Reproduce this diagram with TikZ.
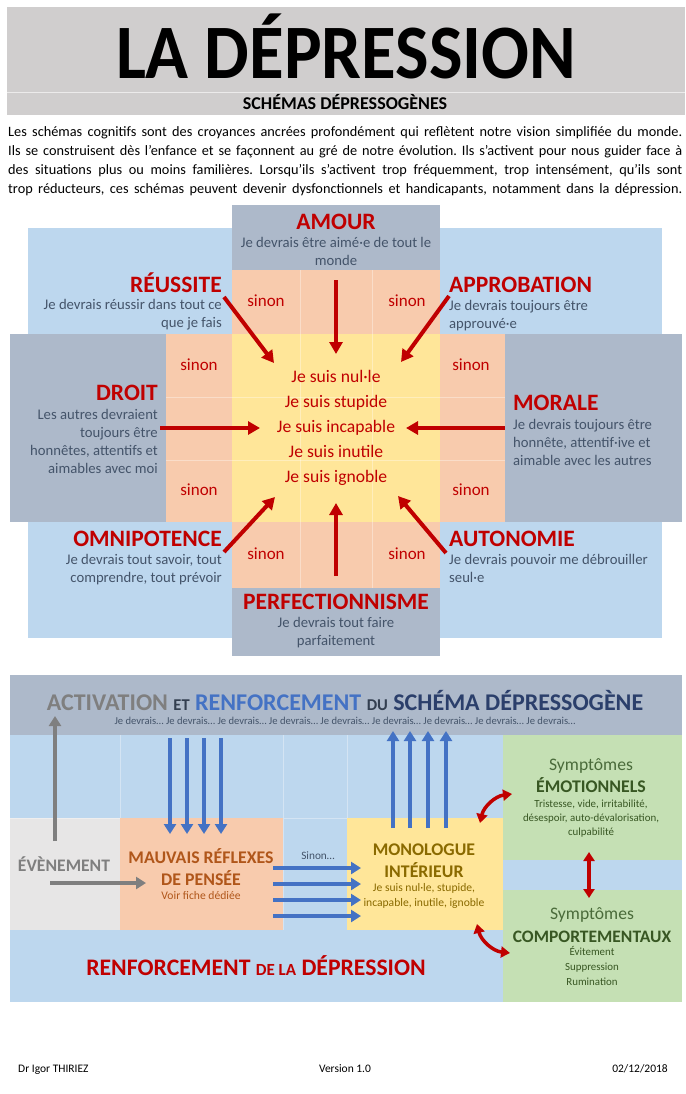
\documentclass[tikz,border=0pt]{standalone}
\usepackage{fontspec}
\setmainfont{Carlito}
\usetikzlibrary{arrows.meta}
\definecolor{hdrgrey}{HTML}{D0CECE}
\definecolor{slate}{HTML}{ADB9CA}
\definecolor{lblue}{HTML}{BDD7EE}
\definecolor{salmon}{HTML}{F8CBAD}
\definecolor{lyellow}{HTML}{FFE699}
\definecolor{dred}{HTML}{C00000}
\definecolor{txtblue}{HTML}{44546A}
\definecolor{lgreen}{HTML}{C5E0B4}
\definecolor{dgreen}{HTML}{385723}
\definecolor{sgreen}{HTML}{4A6B3A}
\definecolor{lgrey}{HTML}{E7E6E6}
\definecolor{midgrey}{HTML}{7F7F7F}
\definecolor{mblue}{HTML}{4472C4}
\definecolor{navy}{HTML}{2B3F6B}
\definecolor{darkslate}{HTML}{333F50}
\definecolor{brownor}{HTML}{B0561A}
\definecolor{olive}{HTML}{8A6A00}
\newcommand\myfs[1]{\fontsize{#1}{#1}\selectfont}
\frenchspacing
\begin{document}
\frenchspacing
\begin{tikzpicture}[x=1pt,y=-1pt,
  every node/.style={inner sep=0pt},
  ttl/.style={text=dred,font=\bfseries\myfs{23.5},text height=15pt,text depth=0pt},
  sub/.style={text=txtblue,font=\myfs{14.7},text height=10pt,text depth=3.5pt},
  sinon/.style={text=dred,font=\myfs{17},text height=11pt,text depth=3.5pt},
  moi/.style={text=dred,font=\myfs{17.6},text height=12pt,text depth=4pt},
  para/.style={font=\myfs{14.3},text height=10pt,text depth=3.2pt,anchor=west},
  redarr/.style={draw=dred,line width=4pt,-{Triangle[length=12pt,width=13pt]}},
  bluearr/.style={draw=mblue,line width=4pt,-{Triangle[length=10pt,width=12pt]}},
  greyarr/.style={draw=midgrey,line width=4pt,-{Triangle[length=10pt,width=12pt]}},
  dblarr/.style={draw=dred,line width=3.5pt,{Triangle[length=9pt,width=11pt]}-{Triangle[length=9pt,width=11pt]}},
  faint/.style={draw=white,opacity=0.35,line width=0.8pt},
  btitle/.style={font=\bfseries\myfs{17.8},text height=11.5pt,text depth=0pt},
  bsub/.style={font=\myfs{11.6},text height=8pt,text depth=2.7pt},
  gsub/.style={font=\myfs{10.9},text height=7.5pt,text depth=2.5pt},
  foot/.style={font=\myfs{11.5},text height=8pt,text depth=2.5pt},
]
\useasboundingbox (0,0) rectangle (685,1094);
\fill[white] (0,0) rectangle (685,1094);

% ---------- header ----------
\fill[hdrgrey] (7,7) rectangle (685,115);
\draw[white!60!hdrgrey,line width=0.8pt] (7,92) -- (685,92);
\node[font=\bfseries\myfs{77},text height=50pt,text depth=0pt] (title) at (346,54) {\scalebox{0.92}[1]{LA DÉPRESSION}};
\node[font=\bfseries\myfs{18},text height=11.5pt,text depth=0pt] (subtitle) at (345,104) {SCHÉMAS DÉPRESSOGÈNES};

\node[para] (p1) at (8,133) {\hbox to 674pt{Les schémas cognitifs sont des croyances ancrées profondément qui reflètent notre vision simplifiée du monde.}};
\node[para] (p2) at (8,152) {\hbox to 674pt{Ils se construisent dès l’enfance et se façonnent au gré de notre évolution. Ils s’activent pour nous guider face à}};
\node[para] (p3) at (8,171) {\hbox to 674pt{des situations plus ou moins familières. Lorsqu’ils s’activent trop fréquemment, trop intensément, qu’ils sont}};
\node[para] (p4) at (8,190) {\hbox to 674pt{trop réducteurs, ces schémas peuvent devenir dysfonctionnels et handicapants, notamment dans la dépression.}};

% ---------- top diagram ----------
\fill[lblue] (28,228) rectangle (662,638);
\fill[slate] (232,205) rectangle (440,270);
\fill[slate] (232,588) rectangle (440,656);
\fill[slate] (10,334) rectangle (166,522);
\fill[slate] (505,334) rectangle (682,522);
\fill[salmon] (232,270) rectangle (440,334);
\fill[salmon] (232,522) rectangle (440,588);
\fill[salmon] (166,334) rectangle (232,522);
\fill[salmon] (440,334) rectangle (505,522);
\fill[lyellow] (232,334) rectangle (440,522);
\draw[faint] (300,270) -- (300,588) (372,270) -- (372,588);
\draw[faint] (166,397) -- (505,397) (166,460) -- (505,460);

% AMOUR
\node[ttl] (amour) at (336,222) {AMOUR};
\node[sub] (amour1) at (336,244) {Je devrais être aimé·e de tout le};
\node[sub] (amour2) at (336,262) {monde};
% REUSSITE
\node[ttl,anchor=east] (reussite) at (222,285) {RÉUSSITE};
\node[sub,anchor=east] (reussite1) at (222,306) {Je devrais réussir dans tout ce};
\node[sub,anchor=east] (reussite2) at (222,324) {que je fais};
% APPROBATION
\node[ttl,anchor=west] (approb) at (449,285) {APPROBATION};
\node[sub,anchor=west] (approb1) at (449,307) {Je devrais toujours être};
\node[sub,anchor=west] (approb2) at (449,325) {approuvé·e};
% DROIT
\node[ttl,anchor=east] (droit) at (158,393) {DROIT};
\node[sub,anchor=east] (droit1) at (158,416) {Les autres devraient};
\node[sub,anchor=east] (droit2) at (158,434) {toujours être};
\node[sub,anchor=east] (droit3) at (158,452) {honnêtes, attentifs et};
\node[sub,anchor=east] (droit4) at (158,470) {aimables avec moi};
% MORALE
\node[ttl,anchor=west] (morale) at (513,403) {MORALE};
\node[sub,anchor=west] (morale1) at (513,426) {Je devrais toujours être};
\node[sub,anchor=west] (morale2) at (513,444) {honnête, attentif·ive et};
\node[sub,anchor=west] (morale3) at (513,462) {aimable avec les autres};
% OMNIPOTENCE
\node[ttl,anchor=east] (omni) at (222,539) {OMNIPOTENCE};
\node[sub,anchor=east] (omni1) at (222,561) {Je devrais tout savoir, tout};
\node[sub,anchor=east] (omni2) at (222,579) {comprendre, tout prévoir};
% AUTONOMIE
\node[ttl,anchor=west] (auto) at (449,539) {AUTONOMIE};
\node[sub,anchor=west] (auto1) at (449,561) {Je devrais pouvoir me débrouiller};
\node[sub,anchor=west] (auto2) at (449,579) {seul·e};
% PERFECTIONNISME
\node[ttl] (perf) at (336,602) {PERFECTIONNISME};
\node[sub] (perf1) at (336,624) {Je devrais tout faire};
\node[sub] (perf2) at (336,642) {parfaitement};

% sinon
\node[sinon] (s1) at (266,303) {sinon};
\node[sinon] (s2) at (407,303) {sinon};
\node[sinon] (s3) at (199,367) {sinon};
\node[sinon] (s4) at (471,367) {sinon};
\node[sinon] (s5) at (199,492) {sinon};
\node[sinon] (s6) at (471,492) {sinon};
\node[sinon] (s7) at (266,556) {sinon};
\node[sinon] (s8) at (407,556) {sinon};

% centre
\node[moi] (m1) at (336,378) {Je suis nul·le};
\node[moi] (m2) at (336,403) {Je suis stupide};
\node[moi] (m3) at (336,428) {Je suis incapable};
\node[moi] (m4) at (336,453) {Je suis inutile};
\node[moi] (m5) at (336,478) {Je suis ignoble};

% arrows top
\coordinate (aA) at (336,280); \coordinate (aAt) at (336,354);
\coordinate (aR) at (224,297); \coordinate (aRt) at (274,363);
\coordinate (aP) at (449,296); \coordinate (aPt) at (401,362);
\coordinate (aD) at (160,428); \coordinate (aDt) at (260,428);
\coordinate (aM) at (505,428); \coordinate (aMt) at (406,428);
\coordinate (aO) at (224,552); \coordinate (aOt) at (275,497);
\coordinate (aU) at (446,553); \coordinate (aUt) at (398,496);
\coordinate (aF) at (336,576); \coordinate (aFt) at (336,503);
\draw[redarr] (aA) -- (aAt);
\draw[redarr] (aR) -- (aRt);
\draw[redarr] (aP) -- (aPt);
\draw[redarr] (aD) -- (aDt);
\draw[redarr] (aM) -- (aMt);
\draw[redarr] (aO) -- (aOt);
\draw[redarr] (aU) -- (aUt);
\draw[redarr] (aF) -- (aFt);

% ---------- bottom diagram ----------
\fill[slate] (10,675) rectangle (682,735);
\fill[lblue] (10,735) rectangle (503,1002);
\fill[lgreen] (503,735) rectangle (682,860);
\fill[lblue] (503,860) rectangle (682,890);
\fill[lgreen] (503,890) rectangle (682,1002);
\fill[lgrey] (10,818) rectangle (120,930);
\fill[salmon] (120,818) rectangle (283,930);
\fill[lyellow] (347,818) rectangle (503,930);
\draw[faint] (120,735) -- (120,818) (283,735) -- (283,930) (347,735) -- (347,818) (10,818) -- (120,818) (283,818) -- (347,818);

\node[font=\bfseries\myfs{24},text height=16.5pt,text depth=0pt] (acth) at (345,702)
  {\textcolor{midgrey}{ACTIVATION} \textcolor{darkslate}{\myfs{16.5}ET} \textcolor{mblue}{RENFORCEMENT} \textcolor{darkslate}{\myfs{16.5}DU} \textcolor{navy}{SCHÉMA DÉPRESSOGÈNE}};
\node[font=\myfs{10.6},text=txtblue,text height=7.5pt,text depth=2pt] (jed) at (345,722)
  {Je devrais… Je devrais… Je devrais… Je devrais… Je devrais… Je devrais… Je devrais… Je devrais… Je devrais…};

\node[btitle,text=midgrey,font=\bfseries\myfs{17.6}] (evt) at (64,866) {ÉVÈNEMENT};
\node[btitle,text=brownor] (mr1) at (201,858) {MAUVAIS RÉFLEXES};
\node[btitle,text=brownor] (mr2) at (201,880) {DE PENSÉE};
\node[bsub,text=brownor] (mr3) at (201,897) {Voir fiche dédiée};
\node[font=\myfs{11.3},text=txtblue,text height=7.5pt,text depth=2pt] (sinonb) at (318,857) {Sinon…};
\node[btitle,text=olive] (mo1) at (424,850) {MONOLOGUE};
\node[btitle,text=olive] (mo2) at (424,872) {INTÉRIEUR};
\node[bsub,text=olive] (mo3) at (424,889) {Je suis nul·le, stupide,};
\node[bsub,text=olive] (mo4) at (424,904) {incapable, inutile, ignoble};

\node[font=\myfs{17.6},text=sgreen,text height=12pt,text depth=3.5pt] (se0) at (591,766) {Symptômes};
\node[btitle,text=dgreen] (se1) at (591,787) {ÉMOTIONNELS};
\node[gsub,text=dgreen] (se2) at (591,805) {Tristesse, vide, irritabilité,};
\node[gsub,text=dgreen] (se3) at (591,819) {désespoir, auto-dévalorisation,};
\node[gsub,text=dgreen] (se4) at (591,833) {culpabilité};
\node[font=\myfs{17.6},text=sgreen,text height=12pt,text depth=3.5pt] (sc0) at (592,915) {Symptômes};
\node[btitle,text=dgreen,font=\bfseries\myfs{17.5}] (sc1) at (592,937) {COMPORTEMENTAUX};
\node[gsub,text=dgreen] (sc2) at (592,953) {Évitement};
\node[gsub,text=dgreen] (sc3) at (592,968) {Suppression};
\node[gsub,text=dgreen] (sc4) at (592,983) {Rumination};

\node[font=\bfseries\myfs{23.7},text=dred,text height=15pt,text depth=0pt] (renf) at (256,968)
  {RENFORCEMENT {\myfs{17}DE LA} DÉPRESSION};

% bottom arrows
\coordinate (gu0) at (55,841); \coordinate (gu1) at (55,716);
\draw[greyarr] (gu0) -- (gu1);
\coordinate (gr0) at (50,883); \coordinate (gr1) at (146,883);
\draw[greyarr] (gr0) -- (gr1);
\foreach \x/\n in {170/1,187/2,204/3,221/4}{
  \coordinate (bd\n) at (\x,738); \coordinate (bdt\n) at (\x,834);
  \draw[bluearr] (bd\n) -- (bdt\n);}
\foreach \y/\n in {868/1,884/2,900/3,916/4}{
  \coordinate (bh\n) at (273,\y); \coordinate (bht\n) at (361,\y);
  \draw[bluearr] (bh\n) -- (bht\n);}
\foreach \x/\n in {393/1,410/2,428/3,446/4}{
  \coordinate (bu\n) at (\x,828); \coordinate (but\n) at (\x,731);
  \draw[bluearr] (bu\n) -- (but\n);}
\coordinate (c1a) at (480,823); \coordinate (c1b) at (512,794);
\draw[dblarr] (c1a) to[bend left=35] (c1b);
\coordinate (c2a) at (477,924); \coordinate (c2b) at (510,953);
\draw[dblarr] (c2a) to[bend right=35] (c2b);
\coordinate (v1) at (589,852); \coordinate (v2) at (589,898);
\draw[dblarr] (v1) -- (v2);

% footer
\node[foot,anchor=west] (f1) at (18,1070) {Dr Igor THIRIEZ};
\node[foot] (f2) at (345,1070) {Version 1.0};
\node[foot,anchor=east] (f3) at (668,1070) {02/12/2018};
\end{tikzpicture}
\end{document}
